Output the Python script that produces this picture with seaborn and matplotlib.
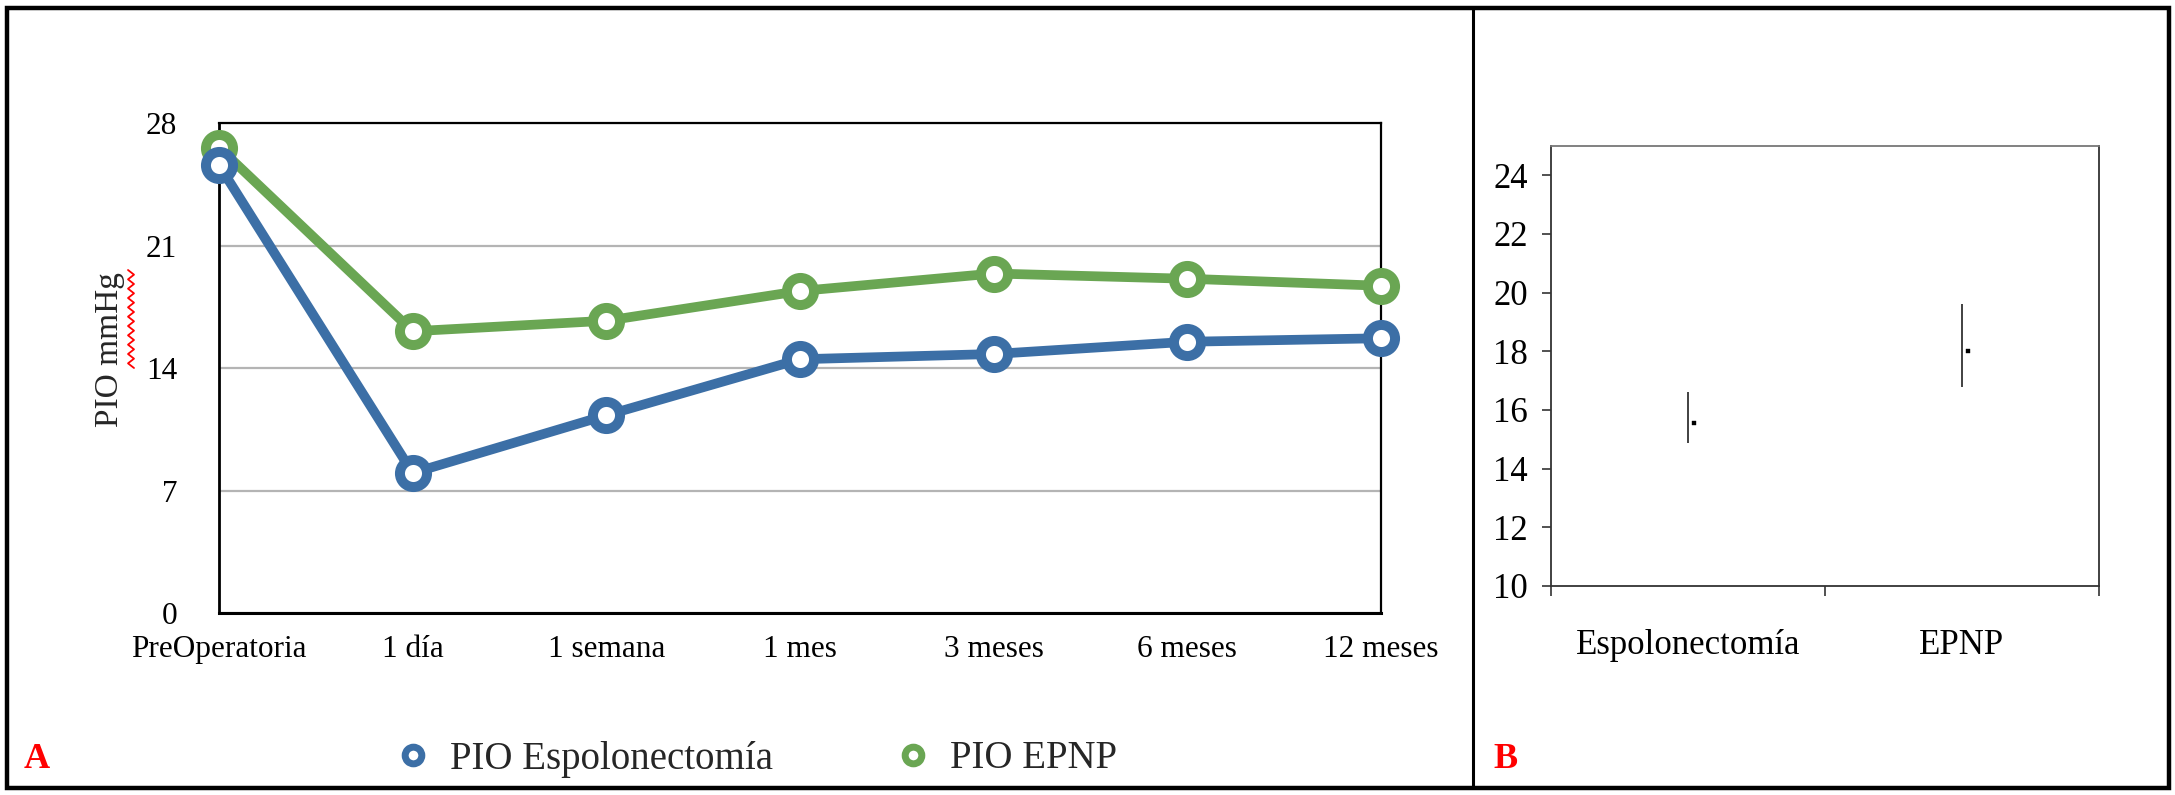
import numpy as np
import pandas as pd
import seaborn as sns
import matplotlib.pyplot as plt
from matplotlib.lines import Line2D
from matplotlib.patches import Rectangle

# Panel A data (PIO mmHg over follow-up)
timeLabels = ['PreOperatoria', '1 día', '1 semana', '1 mes', '3 meses', '6 meses', '12 meses']
pioEspolonectomia = [25.6, 8.0, 11.3, 14.5, 14.8, 15.5, 15.7]
pioEpnp = [26.6, 16.1, 16.7, 18.4, 19.4, 19.1, 18.7]

# Panel B data (mean and interval)
groupLabels = ['Espolonectomía', 'EPNP']
groupMean = [15.55, 18.0]
groupLow = [14.87, 16.77]
groupHigh = [16.6, 19.6]

blue = '#3c6fa6'
green = '#6aa653'

sns.set_theme(style='white')
plt.rcParams['font.family'] = ['Liberation Serif', 'DejaVu Serif']

W, H = 2175, 795
fig = plt.figure(figsize=(W/100, H/100), dpi=100)
fig.patch.set_facecolor('white')

# ---- Panel A ----
axA = fig.add_axes([219/W, 1-613/H, (1381-219)/W, (613-123)/H])
dfA = pd.DataFrame({'pos': np.arange(len(timeLabels)),
                    'Espolonectomia': pioEspolonectomia,
                    'EPNP': pioEpnp})
lineStyle = dict(linewidth=7, marker='o', markersize=19.5, markeredgewidth=7.2,
                 markerfacecolor='white', clip_on=False)
sns.lineplot(data=dfA, x='pos', y='EPNP', color=green, markeredgecolor=green,
             ax=axA, zorder=3, **lineStyle)
sns.lineplot(data=dfA, x='pos', y='Espolonectomia', color=blue, markeredgecolor=blue,
             ax=axA, zorder=4, **lineStyle)
axA.set_xlim(0, len(timeLabels)-1)
axA.set_ylim(0, 28)
axA.set_yticks([0, 7, 14, 21, 28])
axA.set_xticks(dfA['pos'])
axA.set_xticklabels(timeLabels)
axA.set_xlabel('')
axA.set_ylabel('')
axA.yaxis.grid(True, color='#b4b4b4', linewidth=1.6)
axA.set_axisbelow(True)
axA.tick_params(axis='y', direction='in', length=6.5, width=1.5, pad=30, labelsize=22.5, colors='black')
axA.tick_params(axis='x', length=0, pad=16, labelsize=22.5, colors='black')
for s in axA.spines.values():
    s.set_color('black')
    s.set_linewidth(1.6)
axA.spines['bottom'].set_linewidth(2.2)
axA.spines['left'].set_linewidth(2.0)

fig.text(110/W, 1-350/H, 'PIO mmHg', rotation=90, ha='center', va='center', fontsize=24)
# spell-check squiggle under "mmHg"
sqY = np.linspace(270, 368, 22)
sqX = 131 + np.where(np.arange(len(sqY)) % 2 == 0, -3, 3)
fig.add_artist(Line2D(sqX/W, 1-sqY/H, color='red', linewidth=1.3, transform=fig.transFigure))

handles = [Line2D([], [], color=blue, linestyle='none', marker='o', markersize=12,
                  markeredgewidth=5, markerfacecolor='white', markeredgecolor=blue),
           Line2D([], [], color=green, linestyle='none', marker='o', markersize=12,
                  markeredgewidth=5, markerfacecolor='white', markeredgecolor=green)]
fig.legend(handles, ['PIO Espolonectomía', 'PIO EPNP'], loc='center',
           bbox_to_anchor=(757/W, 1-759/H), ncol=2, frameon=False,
           prop={'family': ['Liberation Serif', 'DejaVu Serif'], 'size': 28},
           handlelength=0.8, handletextpad=0.55, columnspacing=3.2)

fig.text(37/W, 1-759/H, 'A', color='red', fontsize=26, fontweight='bold', ha='center', va='center')

# ---- Panel B ----
axB = fig.add_axes([1551/W, 1-586/H, (2099-1551)/W, (586-146)/H])
catPos = np.arange(len(groupLabels)) + 0.5
axB.vlines(catPos, groupLow, groupHigh, color='#333333', linewidth=1.3)
sns.scatterplot(x=catPos + 0.023, y=groupMean, marker='s', s=12, color='black',
                edgecolor='black', ax=axB, zorder=5)
axB.set_xlim(0, len(groupLabels))
axB.set_ylim(10, 25)
axB.set_yticks(np.arange(10, 25, 2))
axB.set_xticks(np.arange(len(groupLabels)+1))
axB.set_xticklabels([])
axB.set_xticks(catPos, minor=True)
axB.set_xticklabels(groupLabels, minor=True)
axB.tick_params(axis='x', which='major', direction='out', length=7, width=1.2, colors='#333333', bottom=True)
axB.tick_params(axis='x', which='minor', length=0, pad=31, labelsize=25, labelcolor='black')
axB.tick_params(axis='y', direction='out', length=6.5, width=1.2, pad=10, labelsize=25,
                colors='#333333', labelcolor='black', left=True)
for s in axB.spines.values():
    s.set_color('#333333')
    s.set_linewidth(1.3)
axB.spines['top'].set_color('#777777')

fig.text(1505/W, 1-760/H, 'B', color='red', fontsize=26, fontweight='bold', ha='center', va='center')

# ---- outer frame and divider ----
fig.add_artist(Rectangle((7/W, 1-788/H), (2169-7)/W, (788-8)/H, transform=fig.transFigure,
                         fill=False, edgecolor='black', linewidth=3.2))
fig.add_artist(Line2D([1473/W, 1473/W], [1-788/H, 1-8/H], color='black', linewidth=2.2,
                      transform=fig.transFigure))

fig.savefig('out.png', dpi=100, facecolor='white')
